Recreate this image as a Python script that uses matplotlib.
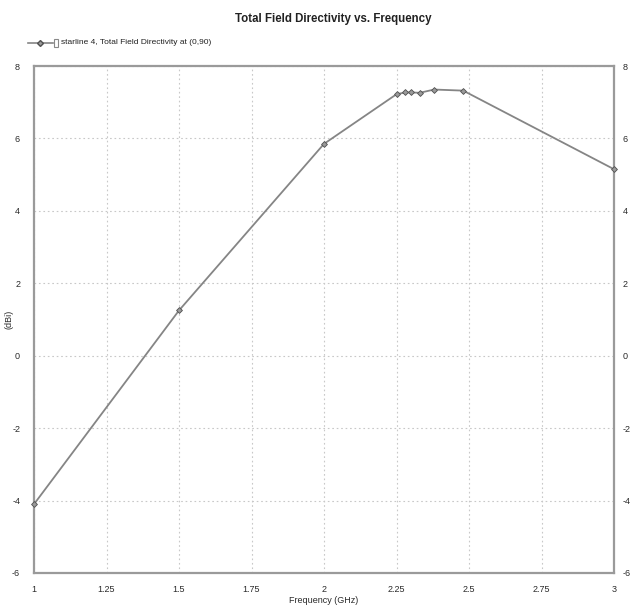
import matplotlib
matplotlib.use("Agg")
import matplotlib.pyplot as plt
from matplotlib.lines import Line2D
from matplotlib.patches import Rectangle

plt.rcParams['font.family'] = ['Liberation Sans', 'DejaVu Sans']
plt.rcParams['axes.unicode_minus'] = False

freq = [1.0, 1.5, 2.0, 2.25, 2.28, 2.30, 2.33, 2.38, 2.48, 3.0]
directivity = [-4.1, 1.25, 5.85, 7.22, 7.27, 7.27, 7.26, 7.35, 7.32, 5.15]
xticks = [1, 1.25, 1.5, 1.75, 2, 2.25, 2.5, 2.75, 3]
xticklabels = ["1", "1.25", "1.5", "1.75", "2", "2.25", "2.5", "2.75", "3"]
yticks = [-6, -4, -2, 0, 2, 4, 6, 8]
yticklabels = ["-6", "-4", "-2", "0", "2", "4", "6", "8"]

fig = plt.figure(figsize=(6.31, 6.07), dpi=100)
ax = fig.add_axes([34/631, 1-573/607, (614-34)/631, (573-66)/607])

ax.plot(freq, directivity, color="#858585", lw=1.3, marker="D", ms=3,
        mfc="#9a9a9a", mec="#505050", mew=0.6, clip_on=False, zorder=5)
ax.set_xlim(1, 3)
ax.set_ylim(-6, 8)
ax.set_xticks(xticks)
ax.set_xticklabels(xticklabels)
ax.set_yticks(yticks)
ax.set_yticklabels(yticklabels)
ax.grid(True, linestyle=(0, (1.5, 2.5)), color="#c8c8c8", lw=0.8)
for s in ax.spines.values():
    s.set_color("#9a9a9a")
    s.set_linewidth(1.6)
ax.tick_params(axis="x", length=0, labelsize=6.5, colors="#2a2a2a", pad=9)
ax.tick_params(axis="y", length=0, labelsize=6.5, colors="#2a2a2a", pad=10)
ax.set_xlabel("Frequency (GHz)", fontsize=6.5, color="#2a2a2a", labelpad=1)
ax.set_ylabel("(dBi)", fontsize=6.5, color="#2a2a2a")
ax.yaxis.set_label_coords(-0.036, 0.5)

ax2 = ax.twinx()
ax2.set_ylim(-6, 8)
ax2.set_yticks(yticks)
ax2.set_yticklabels(yticklabels)
ax2.tick_params(axis="y", length=0, labelsize=6.5, colors="#2a2a2a", pad=6)
for s in ax2.spines.values():
    s.set_visible(False)

fig.text(0.528, 0.979, "Total Field Directivity vs. Frequency", ha="center", va="top",
         fontsize=8.3, fontweight="bold", color="#222222")

# legend
fig.add_artist(Line2D([28/631, 53/631], [1-43/607, 1-43/607], color="#858585", lw=1.2,
                      transform=fig.transFigure))
fig.add_artist(Line2D([40.5/631], [1-43/607], color="#505050", marker="D", ms=3,
                      mfc="#9a9a9a", mec="#505050", lw=0, transform=fig.transFigure))
fig.add_artist(Rectangle((54/631, 1-47/607), 4/631, 8/607, fill=False, ec="#888888", lw=0.8,
                         transform=fig.transFigure))
fig.text(61/631, 1-43/607, "starline 4, Total Field Directivity at (0,90)", ha="left",
         va="center", fontsize=6, color="#222222")

fig.savefig("out.png", dpi=100, facecolor="white")
